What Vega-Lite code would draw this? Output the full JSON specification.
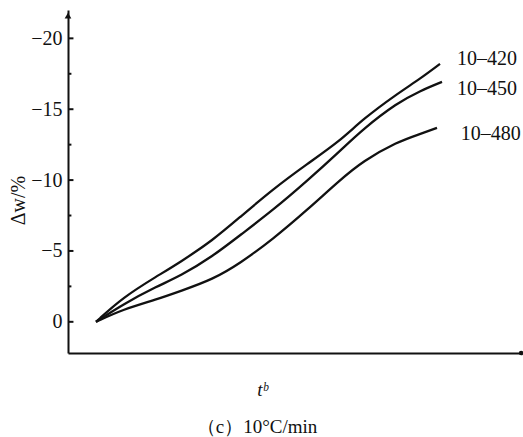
{
  "$schema": "https://vega.github.io/schema/vega-lite/v6.json",
  "width": 454,
  "height": 343,
  "autosize": {"type": "none"},
  "padding": {"left": 68, "top": 10, "right": 1, "bottom": 84},
  "background": "white",
  "config": {"view": {"stroke": null}, "font": "Liberation Serif"},
  "title": {"text": "（c）10°C/min", "orient": "bottom", "font": "Liberation Serif", "fontSize": 19, "fontWeight": "normal", "color": "#111", "dx": -38, "offset": 19},
  "datasets": {
    "curves": [
      {"series": "10–420", "t": 6.17, "dw": 0},
      {"series": "10–420", "t": 12.11, "dw": -1.73},
      {"series": "10–420", "t": 19.6, "dw": -3.22},
      {"series": "10–420", "t": 24.67, "dw": -4.2},
      {"series": "10–420", "t": 31.94, "dw": -5.76},
      {"series": "10–420", "t": 37.89, "dw": -7.39},
      {"series": "10–420", "t": 45.15, "dw": -9.36},
      {"series": "10–420", "t": 52.64, "dw": -11.13},
      {"series": "10–420", "t": 59.91, "dw": -12.76},
      {"series": "10–420", "t": 64.98, "dw": -14.31},
      {"series": "10–420", "t": 72.47, "dw": -16.08},
      {"series": "10–420", "t": 77.53, "dw": -17.14},
      {"series": "10–420", "t": 81.94, "dw": -18.2},
      {"series": "10–450", "t": 6.17, "dw": 0},
      {"series": "10–450", "t": 12.11, "dw": -1.24},
      {"series": "10–450", "t": 19.6, "dw": -2.51},
      {"series": "10–450", "t": 24.67, "dw": -3.22},
      {"series": "10–450", "t": 31.94, "dw": -4.63},
      {"series": "10–450", "t": 37.89, "dw": -6.11},
      {"series": "10–450", "t": 45.15, "dw": -7.88},
      {"series": "10–450", "t": 52.64, "dw": -9.93},
      {"series": "10–450", "t": 59.91, "dw": -12.05},
      {"series": "10–450", "t": 64.98, "dw": -13.6},
      {"series": "10–450", "t": 72.47, "dw": -15.44},
      {"series": "10–450", "t": 77.53, "dw": -16.29},
      {"series": "10–450", "t": 82.38, "dw": -16.93},
      {"series": "10–480", "t": 6.17, "dw": 0},
      {"series": "10–480", "t": 12.11, "dw": -0.88},
      {"series": "10–480", "t": 19.6, "dw": -1.59},
      {"series": "10–480", "t": 24.67, "dw": -2.16},
      {"series": "10–480", "t": 31.94, "dw": -3.0},
      {"series": "10–480", "t": 37.89, "dw": -4.13},
      {"series": "10–480", "t": 45.15, "dw": -5.83},
      {"series": "10–480", "t": 52.64, "dw": -7.88},
      {"series": "10–480", "t": 59.91, "dw": -10.0},
      {"series": "10–480", "t": 64.98, "dw": -11.34},
      {"series": "10–480", "t": 72.47, "dw": -12.69},
      {"series": "10–480", "t": 77.53, "dw": -13.25},
      {"series": "10–480", "t": 81.28, "dw": -13.68}
    ],
    "labels": [
      {"series": "10–420", "t": 85.7, "dw": -18.55},
      {"series": "10–450", "t": 85.7, "dw": -16.43},
      {"series": "10–480", "t": 86.5, "dw": -13.25}
    ],
    "majorTicks": [{"v": 0}, {"v": -5}, {"v": -10}, {"v": -15}, {"v": -20}],
    "minorTicks": [{"v": -2.5}, {"v": -7.5}, {"v": -12.5}, {"v": -17.5}]
  },
  "layer": [
    {
      "data": {"name": "curves"},
      "mark": {"type": "line", "color": "#111", "strokeWidth": 2.3, "interpolate": "basis"},
      "encoding": {
        "x": {"field": "t", "type": "quantitative", "scale": {"domain": [0, 100], "nice": false, "zero": false},
          "axis": {"title": "tᵇ", "titleFont": "Liberation Serif", "titleFontSize": 19, "titleFontStyle": "italic", "titleFontWeight": "normal", "titleColor": "#111", "titleX": 194, "titlePadding": 27, "ticks": false, "labels": false, "grid": false, "domainColor": "#111", "domainWidth": 2}},
        "y": {"field": "dw", "type": "quantitative", "scale": {"domain": [2.2, -22], "nice": false, "zero": false},
          "axis": {"title": "Δw/%", "titleFont": "Liberation Serif", "titleFontSize": 20, "titleFontWeight": "normal", "titleColor": "#111", "titleX": -40, "titleY": 190, "titleAngle": -90,
            "values": [0, -5, -10, -15, -20],
            "labelFont": "Liberation Serif", "labelFontSize": 20, "labelColor": "#111", "labelPadding": 6,
            "ticks": false, "grid": false, "domainColor": "#111", "domainWidth": 2}},
        "detail": {"field": "series"}
      }
    },
    {
      "data": {"name": "majorTicks"},
      "mark": {"type": "rule", "color": "#111", "strokeWidth": 2},
      "encoding": {"x": {"datum": 0}, "x2": {"datum": 1.2}, "y": {"field": "v", "type": "quantitative"}}
    },
    {
      "data": {"name": "minorTicks"},
      "mark": {"type": "rule", "color": "#111", "strokeWidth": 2},
      "encoding": {"x": {"datum": 0}, "x2": {"datum": 0.75}, "y": {"field": "v", "type": "quantitative"}}
    },
    {
      "data": {"name": "labels"},
      "mark": {"type": "text", "align": "left", "baseline": "middle", "font": "Liberation Serif", "fontSize": 20, "color": "#111"},
      "encoding": {
        "x": {"field": "t", "type": "quantitative"},
        "y": {"field": "dw", "type": "quantitative"},
        "text": {"field": "series"}
      }
    },
    {
      "data": {"values": [{}]},
      "mark": {"type": "point", "shape": "triangle-up", "filled": true, "color": "#111", "size": 45, "opacity": 1},
      "encoding": {"x": {"datum": 0}, "y": {"datum": -21.6}}
    },
    {
      "data": {"values": [{}]},
      "mark": {"type": "point", "shape": "circle", "filled": true, "color": "#111", "size": 20, "opacity": 1},
      "encoding": {"x": {"datum": 99.8}, "y": {"datum": 2.2}}
    }
  ]
}
